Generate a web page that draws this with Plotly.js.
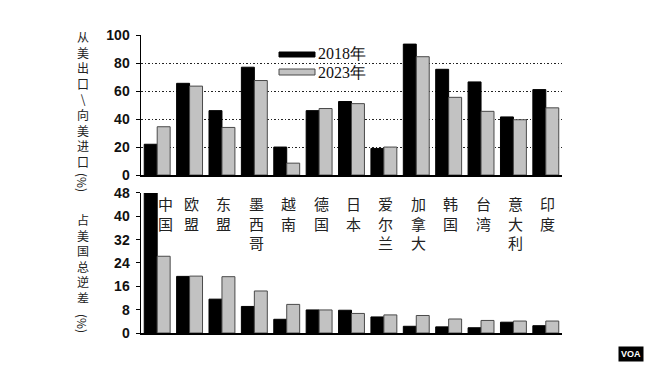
<!DOCTYPE html>
<html>
<head>
<meta charset="utf-8">
<script src="https://cdn.plot.ly/plotly-3.0.1.min.js"></script>
<style>html,body{margin:0;padding:0;background:#fff;}#chart{width:650px;height:366px;}</style>
</head>
<body>
<div id="chart"></div>
<script>
var categories = ['中国','欧盟','东盟','墨西哥','越南','德国','日本','爱尔兰','加拿大','韩国','台湾','意大利','印度'];
var share2018 = [22, 65.5, 46, 77, 20, 46, 52.5, 19, 93.5, 75.5, 66.5, 41.5, 61];
var share2023 = [34.5, 63.5, 34, 67.5, 8.5, 47.5, 51, 20, 84.5, 55.5, 45.5, 39.5, 48];
var deficit2018 = [48, 19.4, 11.6, 9.1, 4.7, 7.9, 7.8, 5.5, 2.3, 2.1, 1.8, 3.7, 2.5];
var deficit2023 = [26.3, 19.5, 19.3, 14.4, 9.8, 7.9, 6.7, 6.2, 6.0, 4.8, 4.3, 4.1, 4.1];
var seriesNames = ['2018年', '2023年'];
var topTicks = [0, 20, 40, 60, 80, 100];
var bottomTicks = [0, 8, 16, 24, 32, 40, 48];
var topTitle = ['从','美','出','口','\\','向','美','进','口'];
var bottomTitle = ['占','美','国','总','逆','差'];

var W = 650, H = 366, M = {l: 141, r: 88, t: 35, b: 33};
var plotH = H - M.t - M.b, plotW = W - M.l - M.r;
function py(p) { return (H - M.b - p) / plotH; }   // pixel y -> paper y
function px(p) { return (p - M.l) / plotW; }       // pixel x -> paper x

var cjk = '"Noto Sans CJK SC", sans-serif';
var black = {color: '#000', line: {color: '#000', width: 1}};
var gray = {color: '#c2c2c2', line: {color: '#4a4a4a', width: 1}};

var traces = [
  {type: 'bar', x: categories, y: share2018, name: seriesNames[0], marker: black, xaxis: 'x', yaxis: 'y'},
  {type: 'bar', x: categories, y: share2023, name: seriesNames[1], marker: gray, xaxis: 'x', yaxis: 'y'},
  {type: 'bar', x: categories, y: deficit2018, name: seriesNames[0], marker: black, xaxis: 'x2', yaxis: 'y2'},
  {type: 'bar', x: categories, y: deficit2023, name: seriesNames[1], marker: gray, xaxis: 'x2', yaxis: 'y2'}
];

var tickFont = {family: '"Liberation Sans", Arial, sans-serif', size: 14, color: '#111', weight: 'bold'};
var titleFont = {family: cjk, size: 12, color: '#222'};

var annotations = categories.map(function (c, i) {
  return {
    x: c, y: 48, xref: 'x2', yref: 'y2', xanchor: 'center', yanchor: 'top',
    xshift: i === 0 ? 8 : 2, yshift: 2,
    text: c.split('').join('<br>'), showarrow: false, align: 'center',
    font: {family: cjk, size: 15, color: '#222'}
  };
});
var titleX = px(83);
annotations.push({x: titleX, y: py(26), xref: 'paper', yref: 'paper', xanchor: 'center', yanchor: 'top',
  text: topTitle.join('<br>'), showarrow: false, align: 'center', font: titleFont});
annotations.push({x: titleX, y: py(182), xref: 'paper', yref: 'paper', xanchor: 'center', yanchor: 'middle',
  text: '(%)', textangle: 90, showarrow: false, font: titleFont});
annotations.push({x: titleX, y: py(209), xref: 'paper', yref: 'paper', xanchor: 'center', yanchor: 'top',
  text: bottomTitle.join('<br>'), showarrow: false, align: 'center', font: titleFont});
annotations.push({x: titleX, y: py(323), xref: 'paper', yref: 'paper', xanchor: 'center', yanchor: 'middle',
  text: '(%)', textangle: 90, showarrow: false, font: titleFont});

// legend texts
annotations.push({
  x: px(316), y: py(53), xref: 'paper', yref: 'paper', xanchor: 'left', yanchor: 'middle',
  text: seriesNames[0], showarrow: false,
  font: {family: '"Liberation Serif", serif', size: 16, color: '#111'}
});
annotations.push({
  x: px(316), y: py(72), xref: 'paper', yref: 'paper', xanchor: 'left', yanchor: 'middle',
  text: seriesNames[1], showarrow: false,
  font: {family: '"Liberation Serif", serif', size: 16, color: '#111'}
});
// VOA logo
annotations.push({
  x: px(631), y: py(354), xref: 'paper', yref: 'paper', xanchor: 'center', yanchor: 'middle',
  text: '<b>VOA</b>', showarrow: false, bgcolor: '#000', borderpad: 2,
  font: {family: '"Liberation Sans", Arial, sans-serif', size: 9, color: '#fff'}
});

var shapes = [
  {type: 'rect', xref: 'paper', yref: 'paper', x0: px(279), x1: px(315), y0: py(57), y1: py(52),
   fillcolor: '#000', line: {color: '#000', width: 1}},
  {type: 'rect', xref: 'paper', yref: 'paper', x0: px(279), x1: px(315), y0: py(75), y1: py(69),
   fillcolor: '#c2c2c2', line: {color: '#4a4a4a', width: 1}}
];

var layout = {
  width: W, height: H,
  margin: M,
  paper_bgcolor: '#fff', plot_bgcolor: 'rgba(0,0,0,0)',
  showlegend: false,
  barmode: 'group', bargap: 0.2, bargroupgap: 0,
  xaxis: {anchor: 'y', domain: [0, 1], showticklabels: false, ticks: '', showgrid: false,
          showline: true, linecolor: '#000', linewidth: 2, zeroline: false, fixedrange: true},
  xaxis2: {anchor: 'y2', domain: [0, 1], showticklabels: false, ticks: '', showgrid: false,
           showline: true, linecolor: '#000', linewidth: 2, zeroline: false, fixedrange: true},
  yaxis: {domain: [0.53, 1], anchor: 'x', range: [0, 100], tickvals: topTicks, ticktext: topTicks.map(String),
          showgrid: true, gridcolor: '#222', griddash: '1.5px,2px', gridwidth: 1,
          showline: true, linecolor: '#000', linewidth: 1.5, zeroline: false,
          ticks: 'outside', ticklen: 4, tickcolor: '#000', tickfont: tickFont, ticklabelstandoff: 3},
  yaxis2: {domain: [0, 0.47], anchor: 'x2', range: [0, 48], tickvals: bottomTicks, ticktext: bottomTicks.map(String),
           showgrid: false, showline: true, linecolor: '#000', linewidth: 1.5, zeroline: false,
           ticks: 'outside', ticklen: 4, tickcolor: '#000', tickfont: tickFont, ticklabelstandoff: 3},
  annotations: annotations,
  shapes: shapes
};

Plotly.newPlot('chart', traces, layout, {displayModeBar: false, staticPlot: true});
</script>
</body>
</html>
